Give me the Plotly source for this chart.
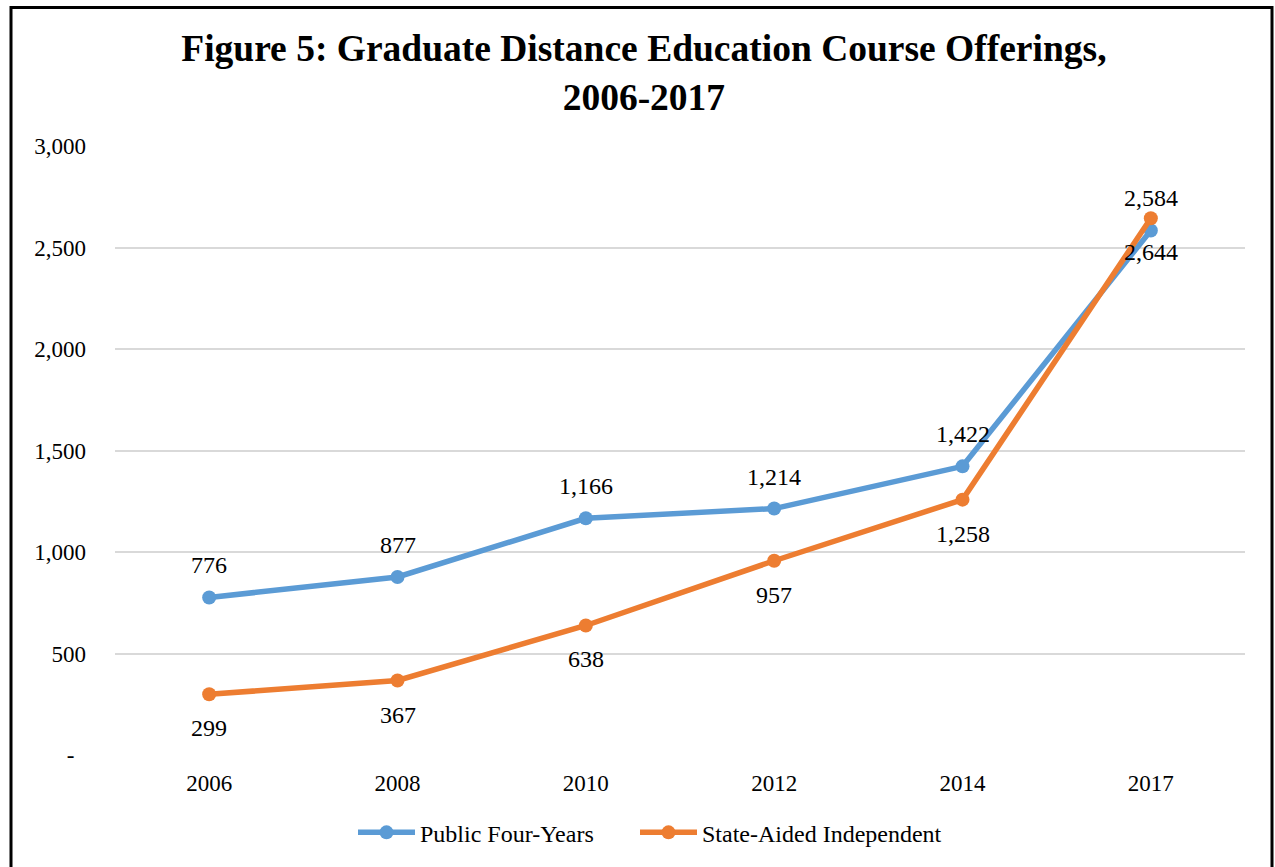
import plotly.graph_objects as go

# Academic years and course offerings
years = ["2006", "2008", "2010", "2012", "2014", "2017"]
public_four_years = [776, 877, 1166, 1214, 1422, 2584]
state_aided_independent = [299, 367, 638, 957, 1258, 2644]

y_tick_values = [0, 500, 1000, 1500, 2000, 2500, 3000]
y_tick_labels = ["-\u00a0\u00a0", "500", "1,000", "1,500", "2,000", "2,500", "3,000"]

BLUE = "#5B9BD5"
ORANGE = "#ED7D31"
FONT = "Liberation Serif, Times New Roman, serif"

fig = go.Figure()
fig.add_trace(go.Scatter(
    x=years, y=public_four_years, name="Public Four-Years",
    mode="lines+markers", legend="legend",
    line=dict(color=BLUE, width=5.5), marker=dict(color=BLUE, size=14),
))
fig.add_trace(go.Scatter(
    x=years, y=state_aided_independent, name="State-Aided Independent",
    mode="lines+markers", legend="legend2",
    line=dict(color=ORANGE, width=5.5), marker=dict(color=ORANGE, size=14),
))

# Value labels: public above the points, state-aided below.
# Category positions are given by index so year strings are not read as numbers.
annotations = []
for i, v in enumerate(public_four_years):
    annotations.append(dict(x=i, y=v, xref="x", yref="y", text=f"{v:,}", showarrow=False,
                            yshift=32, font=dict(family=FONT, size=24, color="black")))
for i, v in enumerate(state_aided_independent):
    annotations.append(dict(x=i, y=v, xref="x", yref="y", text=f"{v:,}", showarrow=False,
                            yshift=-34, font=dict(family=FONT, size=24, color="black")))

L, R, T, B = 115, 30, 146, 110
W, H = 1275, 867
pw, ph = W - L - R, H - T - B

def px_x(x):
    return (x - L) / pw

def px_y(y):
    return (H - B - y) / ph

legend_style = dict(
    orientation="h", xanchor="left", y=px_y(835), yanchor="middle",
    font=dict(family=FONT, size=24), itemwidth=57, bgcolor="rgba(0,0,0,0)",
)

fig.update_layout(
    width=W, height=H,
    margin=dict(l=L, r=R, t=T, b=B),
    paper_bgcolor="white", plot_bgcolor="white",
    font=dict(family=FONT, size=23, color="black"),
    title=dict(
        text="<b>Figure 5: Graduate Distance Education Course Offerings,<br>2006-2017</b>",
        x=0.505, xanchor="center", y=1 - 61 / H, yanchor="middle",
        font=dict(family=FONT, size=37.5, color="black"),
    ),
    xaxis=dict(
        type="category", range=[-0.5, 5.5], showgrid=False, showline=False,
        ticks="", tickfont=dict(size=23), ticklabelstandoff=12,
    ),
    yaxis=dict(
        range=[0, 3000], tickvals=y_tick_values, ticktext=y_tick_labels,
        showgrid=True, gridcolor="#D9D9D9", gridwidth=2, zeroline=False,
        showline=False, ticks="", tickfont=dict(size=23), ticklabelstandoff=28,
    ),
    annotations=annotations,
    showlegend=True,
    legend=dict(x=px_x(353), **legend_style),
    legend2=dict(x=px_x(635), **legend_style),
    shapes=[dict(
        type="rect", xref="paper", yref="paper",
        x0=px_x(11), x1=px_x(1272), y0=px_y(880), y1=px_y(7),
        line=dict(color="black", width=3), fillcolor="rgba(0,0,0,0)", layer="above",
    )],
)

fig.write_html("out.html")
